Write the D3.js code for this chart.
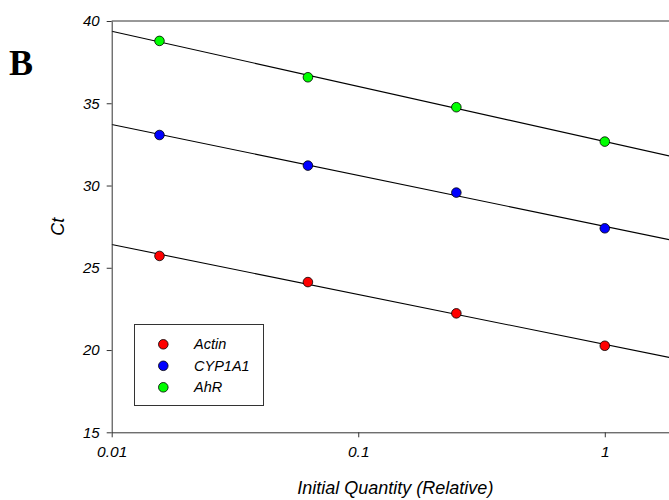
<!DOCTYPE html>
<html>
<head>
<meta charset="utf-8">
<script src="https://cdn.jsdelivr.net/npm/d3@7"></script>
<style>
  html, body { margin: 0; padding: 0; background: #fff; }
  svg { display: block; }
  text { font-family: "Liberation Sans", Arial, sans-serif; }
</style>
</head>
<body>
<svg id="chart" width="669" height="500"></svg>
<script>
// ---- data ----
const quantities = [0.015625, 0.0625, 0.25, 1];
const seriesNames = ["Actin", "CYP1A1", "AhR"];
const seriesColors = ["#ff0000", "#0000ff", "#00ff00"];
const actinCt = [25.72, 24.13, 22.23, 20.26];
const cyp1a1Ct = [33.07, 31.21, 29.57, 27.40];
const ahrCt = [38.79, 36.58, 34.76, 32.67];
const xTicks = [0.01, 0.1, 1];
const xTickLabels = ["0.01", "0.1", "1"];
const yTicks = [15, 20, 25, 30, 35, 40];
const xDomain = [0.01, 2];
const yDomain = [15, 40];

const series = [actinCt, cyp1a1Ct, ahrCt].map((vals, i) => ({
  name: seriesNames[i], color: seriesColors[i],
  points: quantities.map((q, j) => ({ x: q, y: vals[j] }))
}));

// ---- layout ----
const svg = d3.select("#chart");
const pLeft = 111.7, pRight = 679, pTop = 21, pBottom = 432.3;

const x = d3.scaleLog().domain(xDomain).range([pLeft, pRight]);
const y = d3.scaleLinear().domain(yDomain).range([pBottom, pTop]);

svg.append("defs").append("clipPath").attr("id", "plotclip")
  .append("rect").attr("x", pLeft).attr("y", pTop)
  .attr("width", pRight - pLeft).attr("height", pBottom - pTop);

// regression lines
function fit(points) {
  const lx = points.map(p => Math.log10(p.x)), ly = points.map(p => p.y);
  const mx = d3.mean(lx), my = d3.mean(ly);
  let sxy = 0, sxx = 0;
  lx.forEach((v, i) => { sxy += (v - mx) * (ly[i] - my); sxx += (v - mx) * (v - mx); });
  const b = sxy / sxx, a = my - b * mx;
  return q => a + b * Math.log10(q);
}

const plot = svg.append("g").attr("clip-path", "url(#plotclip)");
series.forEach(s => {
  const f = fit(s.points);
  plot.append("line")
    .attr("x1", x(xDomain[0])).attr("y1", y(f(xDomain[0])))
    .attr("x2", x(xDomain[1])).attr("y2", y(f(xDomain[1])))
    .attr("stroke", "#000").attr("stroke-width", 1.1);
});

// points
series.forEach(s => {
  plot.selectAll(null).data(s.points).enter().append("circle")
    .attr("cx", d => x(d.x)).attr("cy", d => y(d.y)).attr("r", 4.8)
    .attr("fill", s.color).attr("stroke", "#000").attr("stroke-width", 0.8);
});

// top frame line
svg.append("line").attr("x1", pLeft).attr("x2", pRight).attr("y1", pTop).attr("y2", pTop)
  .attr("stroke", "#333").attr("stroke-width", 1);

// axes
const xAxis = d3.axisBottom(x).tickValues(xTicks)
  .tickFormat((d, i) => xTickLabels[i]).tickSize(5).tickSizeOuter(0).tickPadding(9);
const gx = svg.append("g").attr("transform", `translate(0,${pBottom})`).call(xAxis);
gx.select(".domain").attr("stroke", "#333");
gx.selectAll(".tick line").attr("stroke", "#333");
gx.selectAll("text").attr("font-size", 15.5).attr("font-style", "italic").attr("fill", "#000");

const yAxis = d3.axisLeft(y).tickValues(yTicks).tickSize(5).tickSizeOuter(0).tickPadding(7);
const gy = svg.append("g").attr("transform", `translate(${pLeft},0)`).call(yAxis);
gy.select(".domain").attr("stroke", "#333");
gy.selectAll(".tick line").attr("stroke", "#333");
gy.selectAll("text").attr("font-size", 15).attr("font-style", "italic").attr("fill", "#000");

// axis titles
svg.append("text").attr("x", (pLeft + pRight) / 2).attr("y", 494)
  .attr("text-anchor", "middle").attr("font-size", 18).attr("font-style", "italic")
  .text("Initial Quantity (Relative)");
svg.append("text")
  .attr("transform", `translate(64,${(pTop + pBottom) / 2}) rotate(-90)`)
  .attr("text-anchor", "middle").attr("font-size", 18).attr("font-style", "italic")
  .text("Ct");

// panel label
svg.append("text").attr("x", 9).attr("y", 75)
  .style("font-family", "'Liberation Serif', 'Times New Roman', serif")
  .attr("font-weight", "bold").attr("font-size", 36).text("B");

// legend
const lg = svg.append("g");
lg.append("rect").attr("x", 134.5).attr("y", 324.5).attr("width", 129).attr("height", 81)
  .attr("fill", "#fff").attr("stroke", "#333").attr("stroke-width", 1);
series.forEach((s, i) => {
  const cy = 344.3 + i * 21.5;
  lg.append("circle").attr("cx", 163.3).attr("cy", cy).attr("r", 4.8)
    .attr("fill", s.color).attr("stroke", "#000").attr("stroke-width", 0.8);
  lg.append("text").attr("x", 194).attr("y", cy + 5)
    .attr("font-size", 14.5).attr("font-style", "italic").text(s.name);
});
</script>
</body>
</html>
